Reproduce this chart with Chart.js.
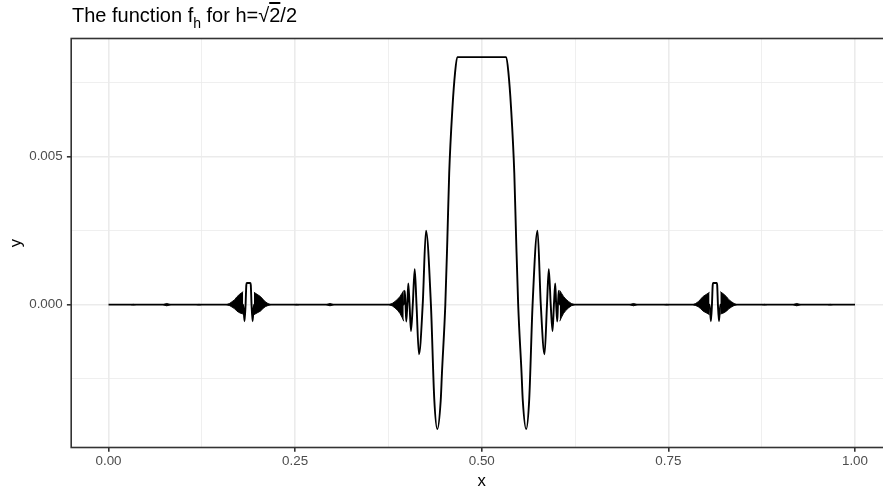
<!DOCTYPE html>
<html><head><meta charset="utf-8">
<script src="https://cdn.jsdelivr.net/npm/chart.js@4.4.1/dist/chart.umd.min.js"></script>
<style>
html,body{margin:0;padding:0;background:#fff;overflow:hidden;width:883px;height:490px;}
#wrap{position:relative;width:893px;height:490px;}
canvas{position:absolute;left:0;top:0;}
#title{position:absolute;left:72px;top:5px;font-family:"Liberation Sans",Arial,sans-serif;font-size:20px;line-height:20px;color:#000;white-space:nowrap;}
#title sub{font-size:14px;vertical-align:-6px;line-height:0;}
.rad{text-decoration:overline;}
</style></head><body>
<div id="wrap"><canvas id="c" width="893" height="490"></canvas>
<div id="title">The function f<sub>h</sub> for h=√<span class="rad">2</span>/2</div></div>
<script>
// ---- data ----
const mainX = [0, 0.1804, 0.1822, 0.1836, 0.1846, 0.1852, 0.1900, 0.1906, 0.1916, 0.1930, 0.1948,
  0.3955, 0.3968, 0.3979, 0.3989, 0.4003, 0.4016, 0.4033, 0.4052, 0.4076, 0.4102, 0.4126, 0.4159, 0.4209, 0.4253, 0.4319, 0.4364, 0.4405, 0.4450, 0.4467, 0.4512, 0.4539, 0.4564, 0.4608, 0.4642, 0.4672,
  0.5328, 0.5358, 0.5392, 0.5436, 0.5461, 0.5488, 0.5533, 0.5550, 0.5595, 0.5636, 0.5681, 0.5747, 0.5791, 0.5841, 0.5874, 0.5898, 0.5924, 0.5948, 0.5967, 0.5984, 0.5997, 0.6011, 0.6021, 0.6032, 0.6045,
  0.8052, 0.8070, 0.8084, 0.8094, 0.8100, 0.8148, 0.8154, 0.8164, 0.8178, 0.8196, 1];
const mainY = [0, 0, -0.00056, 0, 0.00066, 0.00073, 0.00073, 0.00066, 0, -0.00056, 0,
  0, 0.00047, 0, -0.00057, 0, 0.00072, 0, -0.00089, 0, 0.00120, 0, -0.00168, 0, 0.00250, 0, -0.00320, -0.00421, -0.00325, -0.00230, 0, 0.00219, 0.00445, 0.00668, 0.00783, 0.00837,
  0.00837, 0.00783, 0.00668, 0.00445, 0.00219, 0, -0.00230, -0.00325, -0.00421, -0.00320, 0, 0.00250, 0, -0.00168, 0, 0.00120, 0, -0.00089, 0, 0.00072, 0, -0.00057, 0, 0.00047, 0,
  0, -0.00056, 0, 0.00066, 0.00073, 0.00073, 0.00066, 0, -0.00056, 0, 0];

// dense oscillation envelopes: [x, upper, lower]
const spindleCentralL = [[0.3757,0,0],[0.3800,0.00004,-0.00004],[0.3838,0.00011,-0.00011],[0.3875,0.00019,-0.00020],[0.3905,0.00028,-0.00030],[0.3930,0.00038,-0.00042],[0.3955,0.00048,-0.00056]];
const spindleCentralR = [[0.6045,0.00048,-0.00056],[0.6070,0.00038,-0.00042],[0.6095,0.00028,-0.00030],[0.6125,0.00019,-0.00020],[0.6162,0.00011,-0.00011],[0.6200,0.00004,-0.00004],[0.6243,0,0]];
const spindleBurstLL = [[0.1583,0,0],[0.1620,0.00004,-0.00003],[0.1654,0.00010,-0.00008],[0.1690,0.00017,-0.00014],[0.1721,0.00027,-0.00022],[0.1760,0.00036,-0.00028],[0.1804,0.00044,-0.00032]];
const spindleBurstLR = [[0.1948,0.00042,-0.00034],[0.1990,0.00035,-0.00028],[0.2034,0.00028,-0.00022],[0.2070,0.00018,-0.00013],[0.2100,0.00010,-0.00007],[0.2135,0.00004,-0.00003],[0.2170,0,0]];
const spindleBurstRL = [[0.7830,0,0],[0.7865,0.00004,-0.00003],[0.7900,0.00010,-0.00007],[0.7930,0.00018,-0.00013],[0.7966,0.00028,-0.00022],[0.8010,0.00035,-0.00028],[0.8052,0.00042,-0.00034]];
const spindleBurstRR = [[0.8196,0.00044,-0.00032],[0.8240,0.00036,-0.00028],[0.8279,0.00027,-0.00022],[0.8310,0.00017,-0.00014],[0.8346,0.00010,-0.00008],[0.8380,0.00004,-0.00003],[0.8417,0,0]];

// small blips
const blipX    = [0.0332, 0.0780, 0.1212, 0.2521, 0.2967, 0.7033, 0.7479, 0.8788, 0.9220, 0.9668];
const blipHalf = [0.003, 0.005, 0.003, 0.003, 0.005, 0.005, 0.003, 0.003, 0.005, 0.003];
const blipAmp  = [0.00001, 0.00004, 0.00001, 0.00001, 0.00004, 0.00004, 0.00001, 0.00001, 0.00004, 0.00001];

// ticks
const xMajor = [0, 0.25, 0.5, 0.75, 1];
const xMajorLabels = ['0.00', '0.25', '0.50', '0.75', '1.00'];
const xMinor = [0.125, 0.375, 0.625, 0.875];
const yMajor = [0, 0.005];
const yMajorLabels = ['0.000', '0.005'];
const yMinor = [-0.0025, 0.0025, 0.0075];

// ---- chart ----
Chart.defaults.font.family = '"Liberation Sans", Arial, sans-serif';
const near = (a, b) => Math.abs(a - b) < 1e-9;
const isMajor = (list, v) => list.some(m => near(m, v));
const labelFor = (list, labels, v) => { const i = list.findIndex(m => near(m, v)); return i >= 0 ? labels[i] : ''; };

const datasets = [{
  data: mainX.map((x, i) => ({x, y: mainY[i]})),
  borderColor: '#000', borderWidth: 1.9, pointRadius: 0, fill: false,
  cubicInterpolationMode: 'monotone'
}];
function addSpindle(rows) {
  datasets.push({data: rows.map(r => ({x: r[0], y: r[1]})), borderColor: '#000', backgroundColor: '#000', borderWidth: 0.9, pointRadius: 0, fill: false, tension: 0});
  datasets.push({data: rows.map(r => ({x: r[0], y: r[2]})), borderColor: '#000', backgroundColor: '#000', borderWidth: 0.9, pointRadius: 0, fill: '-1', tension: 0});
}
[spindleCentralL, spindleCentralR, spindleBurstLL, spindleBurstLR, spindleBurstRL, spindleBurstRR].forEach(addSpindle);
blipX.forEach((c, i) => addSpindle([[c - blipHalf[i], 0, 0], [c, blipAmp[i], -blipAmp[i]], [c + blipHalf[i], 0, 0]]));

const borderPlugin = {
  id: 'panelBorder',
  afterDatasetsDraw(chart) {
    const a = chart.chartArea, ctx = chart.ctx;
    ctx.save();
    ctx.strokeStyle = '#333333';
    ctx.lineWidth = 1.6;
    ctx.strokeRect(a.left, a.top, a.right - a.left, a.bottom - a.top);
    ctx.restore();
  }
};

new Chart(document.getElementById('c'), {
  type: 'line',
  data: {datasets},
  options: {
    responsive: false, animation: false, events: [],
    layout: {padding: {top: 38.5, right: 0.7, left: 0, bottom: 0}},
    plugins: {legend: {display: false}, tooltip: {enabled: false}, title: {display: false}},
    scales: {
      x: {
        type: 'linear', min: -0.05, max: 1.05,
        afterFit: s => { s.height = 42.5; },
        afterBuildTicks: s => { s.ticks = [...xMajor, ...xMinor].sort((a, b) => a - b).map(v => ({value: v})); },
        ticks: {autoSkip: false, maxRotation: 0, padding: 1.5, color: '#4D4D4D', font: {size: 13.4},
          callback: v => labelFor(xMajor, xMajorLabels, v)},
        grid: {
          color: '#EBEBEB',
          lineWidth: c => isMajor(xMajor, c.tick.value) ? 1.6 : 0.8,
          tickColor: c => isMajor(xMajor, c.tick.value) ? '#333333' : 'rgba(0,0,0,0)',
          tickWidth: 1.6, tickLength: 4.3
        },
        border: {display: false},
        title: {display: true, text: 'x', color: '#000', font: {size: 16.7, lineHeight: 1.0}, padding: {top: 0, bottom: 0}}
      },
      y: {
        type: 'linear', min: -0.00483, max: 0.009,
        afterFit: s => { s.width = 71.2; },
        afterBuildTicks: s => { s.ticks = [...yMajor, ...yMinor].sort((a, b) => a - b).map(v => ({value: v})); },
        ticks: {autoSkip: false, padding: 4.2, color: '#4D4D4D', font: {size: 13.4},
          callback: v => labelFor(yMajor, yMajorLabels, v)},
        grid: {
          color: '#EBEBEB',
          lineWidth: c => isMajor(yMajor, c.tick.value) ? 1.6 : 0.8,
          tickColor: c => isMajor(yMajor, c.tick.value) ? '#333333' : 'rgba(0,0,0,0)',
          tickWidth: 1.6, tickLength: 4.3
        },
        border: {display: false},
        title: {display: true, text: 'y', color: '#000', font: {size: 16.7}, padding: {top: 6.5, bottom: 0}}
      }
    }
  },
  plugins: [borderPlugin]
});
</script>
</body></html>
